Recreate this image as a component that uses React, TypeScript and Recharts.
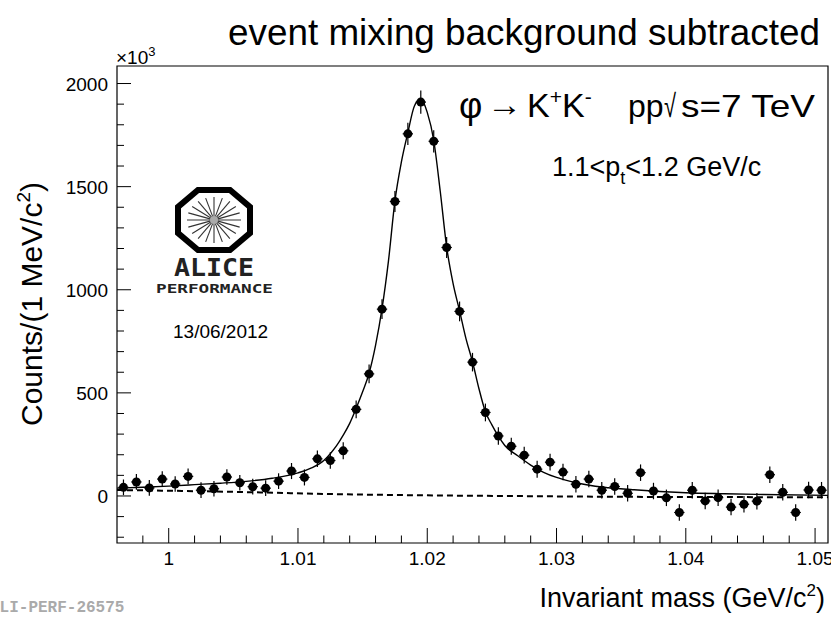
import { ComposedChart, XAxis, YAxis, Scatter, Line, ErrorBar, ReferenceArea } from "recharts";

// invariant mass bin centres (GeV/c^2), 1 MeV bins
const MASS = [
  0.9965, 0.9975, 0.9985, 0.9995, 1.0005, 1.0015, 1.0025, 1.0035, 1.0045, 1.0055,
  1.0065, 1.0075, 1.0085, 1.0095, 1.0105, 1.0115, 1.0125, 1.0135, 1.0145, 1.0155,
  1.0165, 1.0175, 1.0185, 1.0195, 1.0205, 1.0215, 1.0225, 1.0235, 1.0245, 1.0255,
  1.0265, 1.0275, 1.0285, 1.0295, 1.0305, 1.0315, 1.0325, 1.0335, 1.0345, 1.0355,
  1.0365, 1.0375, 1.0385, 1.0395, 1.0405, 1.0415, 1.0425, 1.0435, 1.0445, 1.0455,
  1.0465, 1.0475, 1.0485, 1.0495, 1.0505,
];

const COUNTS = [
  42, 68, 39, 82, 58, 95, 28, 35, 92, 64,
  45, 38, 72, 121, 90, 180, 172, 219, 420, 592,
  906, 1428, 1756, 1910, 1720, 1205, 895, 649, 405, 291,
  241, 198, 130, 164, 116, 57, 82, 28, 46, 13,
  113, 24, -9, -80, 28, -24, -8, -54, -40, -25,
  103, 18, -80, 29, 28,
];

const COUNT_ERR = [
  38, 38, 38, 38, 38, 38, 38, 38, 38, 38,
  38, 38, 38, 39, 39, 40, 40, 41, 43, 45,
  48, 51, 54, 56, 54, 51, 48, 45, 43, 42,
  41, 41, 41, 41, 40, 40, 40, 40, 40, 40,
  40, 40, 40, 40, 40, 40, 40, 40, 40, 40,
  40, 40, 40, 40, 40,
];

const MASS_ERR = 0.0004;

// fitted signal + residual background
const FIT_MASS = [
  0.996, 0.998, 1.0, 1.002, 1.004, 1.006, 1.008, 1.01, 1.011, 1.012,
  1.0125, 1.013, 1.0135, 1.014, 1.0145, 1.015, 1.0155, 1.016, 1.0165, 1.017,
  1.0175, 1.018, 1.0185, 1.019, 1.0195, 1.02, 1.0205, 1.021, 1.0215, 1.022,
  1.0225, 1.023, 1.0235, 1.024, 1.0245, 1.025, 1.0255, 1.026, 1.027, 1.028,
  1.029, 1.03, 1.031, 1.032, 1.033, 1.034, 1.036, 1.038, 1.04, 1.043,
  1.046, 1.051,
];
const FIT_COUNTS = [
  38, 42, 48, 55, 62, 71, 86, 112, 135, 172,
  205, 245, 295, 352, 425, 505, 595, 730, 908, 1140,
  1431, 1620, 1762, 1890, 1925, 1860, 1725, 1480, 1208, 1030,
  898, 762, 651, 520, 408, 345, 290, 245, 195, 150,
  115, 90, 72, 58, 47, 40, 30, 22, 16, 11,
  7, 3,
];

// residual background (dashed)
const BKG_MASS = [0.996, 1.005, 1.012, 1.02, 1.026, 1.035, 1.051];
const BKG_COUNTS = [29, 20, 10, 3, 0, -4, -6];

const X_MIN = 0.996;
const X_MAX = 1.051;
const Y_MIN = -228;
const Y_MAX = 2085;

const X_TICKS = [
  0.998, 1, 1.002, 1.004, 1.006, 1.008, 1.01, 1.012, 1.014, 1.016, 1.018, 1.02, 1.022, 1.024,
  1.026, 1.028, 1.03, 1.032, 1.034, 1.036, 1.038, 1.04, 1.042, 1.044, 1.046, 1.048, 1.05,
];
const X_MAJOR = [1, 1.01, 1.02, 1.03, 1.04, 1.05];
const X_LABELS = ["1", "1.01", "1.02", "1.03", "1.04", "1.05"];

const Y_TICKS = [
  -200, -100, 0, 100, 200, 300, 400, 500, 600, 700, 800, 900, 1000, 1100, 1200, 1300, 1400,
  1500, 1600, 1700, 1800, 1900, 2000,
];
const Y_MAJOR = [0, 500, 1000, 1500, 2000];

const FONT = "'Liberation Sans', Arial, Helvetica, sans-serif";

const points = MASS.map((m, i) => ({ m, v: COUNTS[i], ex: MASS_ERR, ey: COUNT_ERR[i] }));
const fitLine = FIT_MASS.map((m, i) => ({ m, v: FIT_COUNTS[i] }));
const bkgLine = BKG_MASS.map((m, i) => ({ m, v: BKG_COUNTS[i] }));

function XTick(props: any) {
  const { x, y, payload } = props;
  const idx = X_MAJOR.findIndex((t) => Math.abs(t - payload.value) < 1e-9);
  const major = idx >= 0;
  return (
    <g>
      <line x1={x} x2={x} y1={y} y2={y - (major ? 15 : 7.5)} stroke="#000" strokeWidth={1} />
      {major && (
        <text x={x} y={y + 22} textAnchor="middle" fontFamily={FONT} fontSize={19} fill="#000">
          {X_LABELS[idx]}
        </text>
      )}
    </g>
  );
}

function YTick(props: any) {
  const { x, y, payload } = props;
  const major = Y_MAJOR.includes(payload.value);
  return (
    <g>
      <line x1={x} x2={x + (major ? 14 : 7)} y1={y} y2={y} stroke="#000" strokeWidth={1} />
      {major && (
        <text x={x - 9} y={y + 7} textAnchor="end" fontFamily={FONT} fontSize={19} fill="#000">
          {payload.value}
        </text>
      )}
    </g>
  );
}

function Marker(props: any) {
  return <circle cx={props.cx} cy={props.cy} r={4.5} fill="#000" />;
}

function AliceLogo() {
  const cx = 214;
  const cy = 220;
  const angles = [0, 18, 36, 54, 72, 90, 108, 126, 144, 162];
  return (
    <g>
      <polygon
        points="198,190 230,190 250,207 250,233 230,250 198,250 178,233 178,207"
        fill="none"
        stroke="#000"
        strokeWidth={6}
        strokeLinejoin="miter"
      />
      {angles.map((a) => {
        const r = (a * Math.PI) / 180;
        const dx = Math.cos(r) * 27;
        const dy = Math.sin(r) * 23;
        return (
          <line key={a} x1={cx - dx} y1={cy - dy} x2={cx + dx} y2={cy + dy} stroke="#333" strokeWidth={1.1} />
        );
      })}
      <circle cx={cx} cy={cy} r={4} fill="#aaa" />
      <text x={174} y={276} fontFamily="'DejaVu Sans Mono', monospace" fontWeight="bold" fontSize={24}
        textLength={80} lengthAdjust="spacingAndGlyphs" fill="#222">ALICE</text>
      <text x={156} y={293} fontFamily="'DejaVu Sans Mono', monospace" fontWeight="bold" fontSize={12}
        textLength={117} lengthAdjust="spacingAndGlyphs" fill="#222">PERFORMANCE</text>
    </g>
  );
}

export default function App() {
  return (
    <div style={{ position: "absolute", left: 0, top: 0, width: 831, height: 621, background: "#fff" }}>
      <ComposedChart width={831} height={621} margin={{ top: 66, right: 3, bottom: 0, left: 0 }}>
        <XAxis
          dataKey="m"
          type="number"
          domain={[X_MIN, X_MAX]}
          allowDataOverflow
          ticks={X_TICKS}
          interval={0}
          height={78}
          axisLine={false}
          tickLine={false}
          tickSize={0}
          tickMargin={0}
          tick={<XTick />}
        />
        <YAxis
          dataKey="v"
          type="number"
          domain={[Y_MIN, Y_MAX]}
          allowDataOverflow
          ticks={Y_TICKS}
          interval={0}
          width={117}
          axisLine={false}
          tickLine={false}
          tickSize={0}
          tickMargin={0}
          tick={<YTick />}
        />
        <ReferenceArea x1={X_MIN} x2={X_MAX} y1={Y_MIN} y2={Y_MAX} fill="none" stroke="#000" strokeWidth={1.2} />
        <Line
          data={bkgLine}
          dataKey="v"
          type="monotone"
          stroke="#000"
          strokeWidth={2}
          strokeDasharray="6 4"
          dot={false}
          isAnimationActive={false}
        />
        <Line
          data={fitLine}
          dataKey="v"
          type="monotone"
          stroke="#000"
          strokeWidth={1.4}
          dot={false}
          isAnimationActive={false}
        />
        <Scatter data={points} dataKey="v" shape={<Marker />} isAnimationActive={false}>
          <ErrorBar dataKey="ex" direction="x" width={0} stroke="#000" strokeWidth={1.2} />
          <ErrorBar dataKey="ey" direction="y" width={0} stroke="#000" strokeWidth={1.2} />
        </Scatter>
      </ComposedChart>
      <svg
        width={831}
        height={621}
        style={{ position: "absolute", left: 0, top: 0, pointerEvents: "none" }}
        fontFamily={FONT}
      >
        <text x={820} y={45} textAnchor="end" fontSize={36} textLength={592} lengthAdjust="spacingAndGlyphs">
          event mixing background subtracted
        </text>
        <text x={116} y={64} fontSize={19}>
          ×10<tspan dy={-8} fontSize={13}>3</tspan>
        </text>
        <text x={459} y={118} fontSize={36}>φ</text>
        <text x={487} y={116} fontSize={34} textLength={35} lengthAdjust="spacingAndGlyphs">→</text>
        <text x={527} y={117} fontSize={34}>
          K<tspan dy={-13} fontSize={21}>+</tspan>
          <tspan dy={13}>K</tspan>
          <tspan dy={-13} fontSize={21}>-</tspan>
        </text>
        <text x={628} y={117} fontSize={32}>pp</text>
        <text x={664} y={117} fontSize={32} textLength={12} lengthAdjust="spacingAndGlyphs">√</text>
        <text x={681} y={117} fontSize={32} textLength={134} lengthAdjust="spacingAndGlyphs">s=7 TeV</text>
        <text y={176} fontSize={27}>
          <tspan x={552}>1.1&lt;p</tspan>
          <tspan dy={8} fontSize={18}>t</tspan>
          <tspan dy={-8}>&lt;1.2 GeV/c</tspan>
        </text>
        <AliceLogo />
        <text x={173} y={338} fontSize={19}>13/06/2012</text>
        <text transform="translate(42,304) rotate(-90)" textAnchor="middle" fontSize={30}>
          Counts/(1 MeV/c<tspan dy={-12} fontSize={19}>2</tspan>
          <tspan dy={12}>)</tspan>
        </text>
        <text x={825} y={607} textAnchor="end" fontSize={27}>
          Invariant mass (GeV/c<tspan dy={-11} fontSize={17}>2</tspan>
          <tspan dy={11}>)</tspan>
        </text>
        <text x={-10} y={612} fontFamily="'Liberation Mono', 'DejaVu Sans Mono', monospace" fontWeight="bold"
          fontSize={16} fill="#aaa">ALI-PERF-26575</text>
      </svg>
    </div>
  );
}
